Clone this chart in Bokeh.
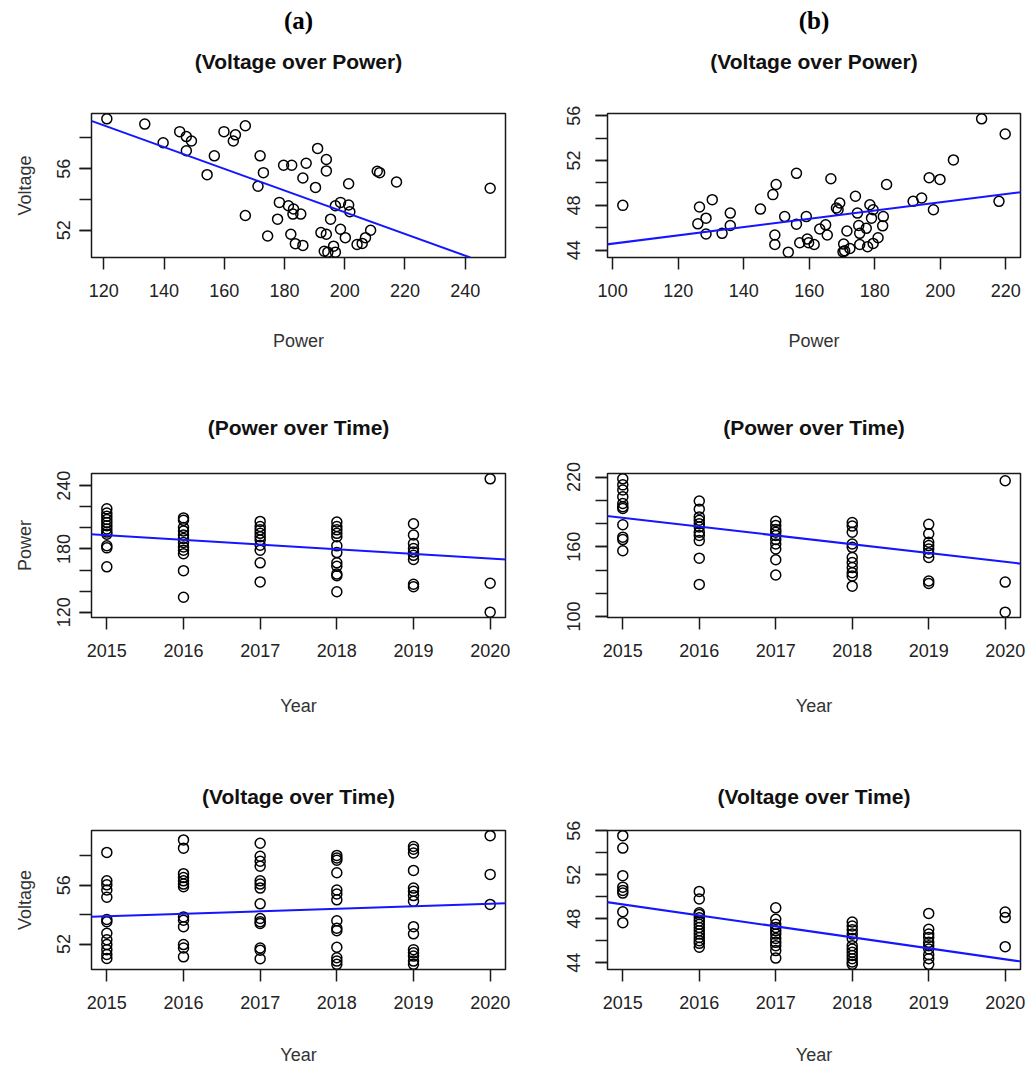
from bokeh.plotting import figure
from bokeh.layouts import gridplot
from bokeh.models import Range1d, FixedTicker, Slope, Title
from bokeh.embed import file_html
from bokeh.resources import INLINE

# ---------------- data ----------------
# (a) Voltage over Power
a_vp_power = [121.0, 133.6, 139.7, 145.2, 147.4, 149.1, 147.4, 156.7, 154.3, 159.9,
              163.7, 163.0, 167.0, 167.0, 171.9, 173.0, 171.2, 174.4, 178.3, 177.7,
              179.7, 182.4, 181.3, 183.0, 182.8, 185.4, 186.1, 187.2, 182.1, 183.6,
              186.1, 191.0, 193.9, 193.9, 190.3, 195.3, 192.1, 193.9, 193.2, 194.4,
              196.3, 196.9, 196.9, 198.6, 201.3, 201.7, 201.3, 198.6, 200.2, 204.1,
              205.8, 206.9, 208.6, 210.8, 211.6, 217.2, 248.3]
a_vp_voltage = [59.23, 58.89, 57.68, 58.40, 58.08, 57.79, 57.16, 56.83, 55.61, 58.40,
                58.19, 57.79, 58.78, 52.96, 56.83, 55.74, 54.86, 51.63, 53.81, 52.72,
                56.22, 56.22, 53.59, 53.38, 53.05, 53.05, 55.39, 56.35, 51.74, 51.13,
                51.02, 57.31, 56.59, 55.85, 54.78, 52.72, 51.85, 51.74, 50.64, 50.58,
                50.97, 50.58, 53.59, 53.81, 53.64, 53.20, 55.02, 52.07, 51.52, 51.08,
                51.15, 51.52, 52.00, 55.83, 55.74, 55.13, 54.73]
a_vp_fit = {"intercept": 67.25, "slope": -0.0704}

# (b) Voltage over Power
b_vp_power = [103.1, 126.5, 126.0, 128.5, 128.5, 130.4, 133.4, 135.9, 135.9, 145.1,
              148.9, 149.9, 149.5, 149.5, 152.5, 153.6, 156.1, 156.1, 157.1, 159.1,
              159.4, 159.8, 161.5, 163.2, 165.0, 165.5, 166.6, 168.8, 169.3, 168.3,
              170.5, 170.3, 171.5, 172.4, 170.8, 174.1, 174.7, 175.1, 175.4, 175.4,
              177.4, 177.8, 178.5, 179.5, 179.0, 179.5, 181.0, 182.6, 182.4, 183.6,
              191.7, 194.3, 196.6, 197.9, 199.9, 204.0, 212.6, 217.9, 219.8]
b_vp_voltage = [48.00, 47.85, 46.35, 46.86, 45.44, 48.51, 45.50, 47.31, 46.20, 47.67,
                48.96, 49.86, 45.35, 44.51, 47.00, 43.82, 50.86, 46.32, 44.66, 47.00,
                44.99, 44.66, 44.51, 45.89, 46.26, 45.35, 50.38, 47.61, 48.21, 47.76,
                44.54, 43.85, 45.71, 44.15, 43.94, 48.81, 47.31, 46.20, 45.50, 44.51,
                45.95, 44.30, 48.06, 47.61, 46.86, 44.60, 45.11, 47.00, 46.17, 49.86,
                48.36, 48.66, 50.47, 47.61, 50.32, 52.06, 55.73, 48.36, 54.38]
b_vp_fit = {"intercept": 40.89, "slope": 0.0369}

# (a) Power over Time
a_pt = {
    2015: [218, 214, 211, 208, 205, 202, 199, 196, 194, 183, 181, 163],
    2016: [209.4, 207.1, 200.3, 197.1, 193.2, 190.0, 186.1, 181.9, 178.7, 175.5, 159.4, 134.2],
    2017: [206.1, 201.3, 198.1, 194.8, 191.6, 188.4, 183.5, 178.7, 166.8, 148.7],
    2018: [205.5, 201.3, 198.1, 194.8, 191.6, 182.9, 176.5, 166.8, 163.5, 156.1, 154.5, 139.4],
    2019: [203.9, 193.2, 185.2, 180.3, 177.1, 173.9, 170.0, 146.5, 144.2],
    2020: [246.5, 147.4, 120.0],
}
a_pt_fit = {"at2015": 192.9, "per_year": -4.39}

# (b) Power over Time
b_pt = {
    2015: [218.5, 213.3, 208.9, 203.1, 197.3, 194.5, 193.0, 179.0, 168.3, 166.2, 156.6],
    2016: [199.4, 192.4, 185.7, 182.8, 179.9, 177.0, 172.6, 169.7, 165.3, 150.2, 127.6],
    2017: [181.9, 178.4, 174.9, 172.6, 169.7, 166.2, 162.4, 158.1, 148.8, 135.7],
    2018: [180.8, 177.8, 172.6, 162.4, 159.5, 150.8, 146.5, 142.1, 137.7, 134.8, 126.1],
    2019: [179.3, 171.2, 163.9, 161.0, 158.1, 154.6, 150.8, 130.5, 128.4],
    2020: [216.8, 129.6, 103.7],
}
b_pt_fit = {"at2015": 184.9, "per_year": -7.58}

# (a) Voltage over Time
a_vt = {
    2015: [58.22, 56.29, 56.02, 55.67, 55.18, 53.67, 53.51, 52.73, 52.29, 51.96, 51.62, 51.29, 51.02],
    2016: [59.07, 58.51, 56.78, 56.51, 56.29, 56.07, 55.89, 53.84, 53.62, 53.18, 51.96, 51.73, 51.13],
    2017: [58.84, 57.96, 57.62, 57.29, 56.29, 56.07, 55.80, 54.73, 53.73, 53.51, 53.40, 51.73, 51.58, 51.00],
    2018: [58.02, 57.84, 57.69, 56.84, 55.67, 55.40, 55.00, 53.58, 53.07, 52.91, 51.78, 51.07, 50.84, 50.62],
    2019: [58.62, 58.44, 58.18, 57.00, 55.80, 55.58, 55.29, 54.91, 53.18, 52.69, 51.62, 51.40, 51.18, 50.84, 50.62],
    2020: [59.36, 56.73, 54.69],
}
a_vt_fit = {"at2015": 53.88, "per_year": 0.172}

# (b) Voltage over Time
b_vt = {
    2015: [55.55, 54.42, 51.91, 50.87, 50.57, 50.33, 48.63, 47.64],
    2016: [50.48, 49.79, 48.54, 48.39, 48.09, 47.79, 47.49, 47.19, 46.90, 46.60, 46.30, 46.00, 45.76, 45.40],
    2017: [48.99, 47.94, 47.49, 47.19, 46.90, 46.60, 46.21, 45.85, 45.55, 45.10, 44.42],
    2018: [47.70, 47.34, 46.99, 46.60, 46.21, 45.55, 45.25, 44.96, 44.66, 44.36, 44.06, 43.85],
    2019: [48.48, 47.04, 46.60, 46.30, 45.85, 45.55, 45.25, 44.72, 44.36, 43.85],
    2020: [48.60, 48.10, 45.46],
}
b_vt_fit = {"at2015": 49.30, "per_year": -0.998}

# tick values
years = [2015, 2016, 2017, 2018, 2019, 2020]
a_power_ticks = [120, 140, 160, 180, 200, 220, 240]
b_power_ticks = [100, 120, 140, 160, 180, 200, 220]

FONT = "Liberation Sans"


def padded(vals):
    lo, hi = min(vals), max(vals)
    d = (hi - lo) * 0.04
    return Range1d(lo - d, hi + d)


def flatten(d):
    xs, ys = [], []
    for yr, vals in d.items():
        for v in vals:
            xs.append(yr)
            ys.append(v)
    return xs, ys


def spacer(h):
    # an invisible title used only as vertical space in the "above" panel
    return Title(text=" ", text_font_size="1px", standoff=h, text_color="white")


def panel(x, y, xticks, ylab, yall, xlabel, ylabel, title, fit, width, height,
          bl, br, bt, bb, tstand, xlab_stand, ytick_stand, header=None):
    p = figure(width=width, height=height, output_backend="svg", toolbar_location=None,
               title=None, x_range=padded(x), y_range=padded(y),
               min_border_left=bl, min_border_right=br, min_border_top=bt,
               min_border_bottom=bb, background_fill_color="white",
               border_fill_color="white")
    p.grid.visible = False
    p.outline_line_color = "#1a1a1a"
    p.outline_line_width = 1.5
    p.outline_line_alpha = 1.0

    p.scatter(x, y, size=10, marker="circle", fill_color=None, line_color="black",
              line_width=1.5)
    p.add_layout(Slope(gradient=fit[1], y_intercept=fit[0], line_color="#1515ff",
                       line_width=2))

    p.xaxis.ticker = FixedTicker(ticks=xticks)
    p.yaxis.ticker = FixedTicker(ticks=ylab, minor_ticks=yall)
    for ax in (p.xaxis[0], p.yaxis[0]):
        ax.axis_line_color = None
        ax.major_tick_out = 12
        ax.major_tick_in = 0
        ax.major_tick_line_color = "#1a1a1a"
        ax.major_tick_line_width = 1.5
        ax.minor_tick_out = 12
        ax.minor_tick_in = 0
        ax.minor_tick_line_color = "#1a1a1a"
        ax.minor_tick_line_width = 1.5
        ax.major_label_text_font = FONT
        ax.major_label_text_font_size = "18px"
        ax.major_label_text_color = "#222222"
        ax.axis_label_text_font = FONT
        ax.axis_label_text_font_size = "18px"
        ax.axis_label_text_font_style = "normal"
        ax.axis_label_text_color = "#333333"
    p.xaxis.major_label_standoff = 14
    p.xaxis.axis_label = xlabel
    p.xaxis.axis_label_standoff = xlab_stand
    p.yaxis.major_label_orientation = "vertical"
    p.yaxis.major_label_standoff = ytick_stand
    if ylabel:
        p.yaxis.axis_label = ylabel
        p.yaxis.axis_label_standoff = 20

    main = Title(text=title, align="center", text_font=FONT,
                 text_font_size="21px", text_font_style="bold",
                 text_color="#111111", standoff=0 if header else tstand)
    if header:
        p.add_layout(spacer(tstand), "above")
        p.add_layout(main, "above")
        p.add_layout(spacer(11), "above")
        p.add_layout(Title(text=header, align="center", text_font="Liberation Serif",
                           text_font_size="25px", text_font_style="bold",
                           text_color="black", standoff=0), "above")
    else:
        p.add_layout(main, "above")
    return p


# row geometry: (height, border_top, border_bottom, title_standoff, xlabel_standoff)
rows = [(365, 113, 108, 38, 31), (355, 108, 103, 70, 36), (347, 110, 94, 46, 33)]
LW, RW = 514, 515
LBL, RBL = 91, 93
LYS, RYS = 9, 15


def tfit(f):
    return (f["at2015"] - f["per_year"] * 2015, f["per_year"])


ax2, ay2 = flatten(a_pt)
bx2, by2 = flatten(b_pt)
ax3, ay3 = flatten(a_vt)
bx3, by3 = flatten(b_vt)

r = rows[0]
a1 = panel(a_vp_power, a_vp_voltage, a_power_ticks, [52, 56], [52, 54, 56, 58],
           "Power", "Voltage", "(Voltage over Power)",
           (a_vp_fit["intercept"], a_vp_fit["slope"]), LW, r[0], LBL, 9,
           r[1], r[2], r[3], r[4], LYS, header="(a)")
b1 = panel(b_vp_power, b_vp_voltage, b_power_ticks, [44, 48, 52, 56],
           [44, 46, 48, 50, 52, 54, 56], "Power", None, "(Voltage over Power)",
           (b_vp_fit["intercept"], b_vp_fit["slope"]), RW, r[0], RBL, 9,
           r[1], r[2], r[3], r[4], RYS, header="(b)")
r = rows[1]
a2 = panel(ax2, ay2, years, [120, 180, 240], [120, 140, 160, 180, 200, 220, 240],
           "Year", "Power", "(Power over Time)", tfit(a_pt_fit), LW, r[0],
           LBL, 9, r[1], r[2], r[3], r[4], LYS)
b2 = panel(bx2, by2, years, [100, 160, 220], [100, 120, 140, 160, 180, 200, 220],
           "Year", None, "(Power over Time)", tfit(b_pt_fit), RW, r[0],
           RBL, 9, r[1], r[2], r[3], r[4], RYS)
r = rows[2]
a3 = panel(ax3, ay3, years, [52, 56], [52, 54, 56, 58], "Year", "Voltage",
           "(Voltage over Time)", tfit(a_vt_fit), LW, r[0], LBL, 9,
           r[1], r[2], r[3], r[4], LYS)
b3 = panel(bx3, by3, years, [44, 48, 52, 56], [44, 46, 48, 50, 52, 54, 56], "Year",
           None, "(Voltage over Time)", tfit(b_vt_fit), RW, r[0], RBL, 9,
           r[1], r[2], r[3], r[4], RYS)

grid = gridplot([[a1, b1], [a2, b2], [a3, b3]], toolbar_location=None)

open("out.html", "w").write(file_html(grid, INLINE))
